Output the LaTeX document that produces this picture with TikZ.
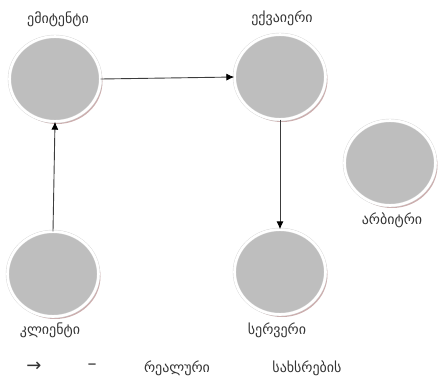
\documentclass[tikz,border=0pt]{standalone}
\usepackage{fontspec}
\setmainfont{DejaVu Sans}
\usetikzlibrary{arrows.meta,shapes.geometric,shadows}
\definecolor{NodeGray}{RGB}{190,190,190}
\definecolor{RimGray}{RGB}{214,214,214}
\definecolor{ShadeRed}{RGB}{170,120,120}
\definecolor{LinkGray}{RGB}{60,60,60}

\tikzset{
  party/.style={ellipse,fill=NodeGray,draw=RimGray,double=white,double distance=2.6pt,
    minimum width=91pt,minimum height=85pt,inner sep=0pt,
    drop shadow={shadow xshift=2pt,shadow yshift=-2.5pt,fill=ShadeRed,opacity=.6}},
  lbl/.style={font=\fontsize{14}{16}\selectfont,text=black!80,inner sep=1pt},
  link/.style={->,LinkGray,line width=.9pt}
}

\begin{document}
\begin{tikzpicture}[x=1pt,y=-1pt,>={Latex[length=8pt,width=7pt,black]}]
\useasboundingbox (0,0) rectangle (442,376);
% participants
\node[party] (emitent) at (55,79) {};
\node[party] (ekvaieri) at (280,77) {};
\node[party] (arbitri) at (390,163) {};
\node[party] (klienti) at (53,274) {};
\node[party] (serveri) at (280,272) {};
% names
\node[lbl] (emitent-t) at (58,19) {ემიტენტი};
\node[lbl] (ekvaieri-t) at (282,18) {ექვაიერი};
\node[lbl] (arbitri-t) at (392,220) {არბიტრი};
\node[lbl] (klienti-t) at (50,330) {კლიენტი};
\node[lbl] (serveri-t) at (277,330) {სერვერი};
% flows
\draw[link] (emitent.east) -- (ekvaieri.west);
\draw[link] (ekvaieri.south) -- (serveri.north);
\draw[link] (klienti.north) -- (emitent.south);
% legend
\node[lbl,font=\fontsize{18}{18}\selectfont] (arrow-t) at (34,367) {→};
\node[lbl,font=\fontsize{18}{18}\selectfont] (dash-t) at (92,367) {–};
\node[lbl] (real-t) at (177,368) {რეალური};
\node[lbl] (money-t) at (307,368) {სახსრების};
\end{tikzpicture}
\end{document}
